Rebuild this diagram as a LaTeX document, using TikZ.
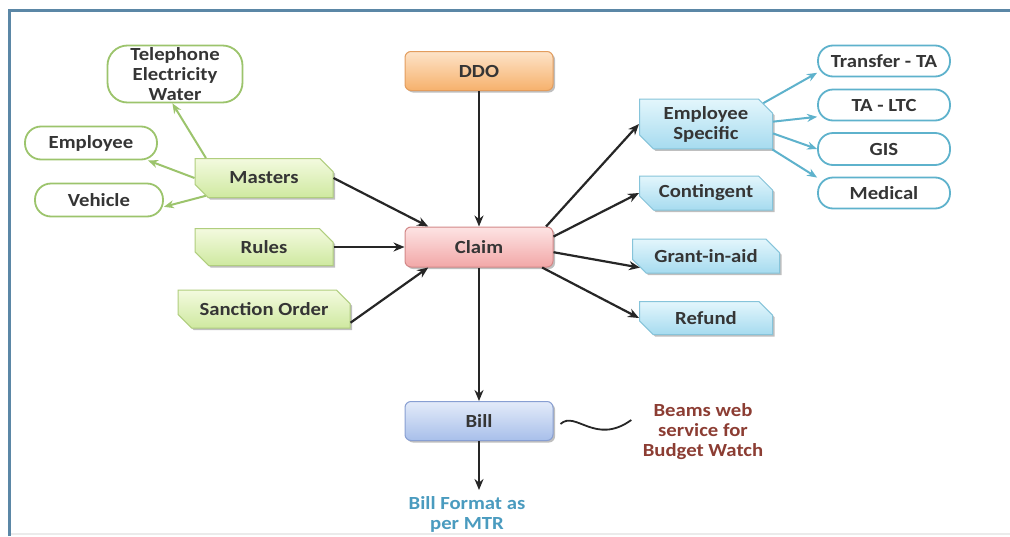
\documentclass[tikz,border=0pt]{standalone}
\usepackage{fontspec}
\setmainfont[FakeStretch=1.12]{Carlito}
\usetikzlibrary{shapes.misc,shadows,arrows.meta,calc}

\definecolor{frameblue}{HTML}{5B87A6}
\definecolor{txt}{HTML}{353535}
\definecolor{gTop}{HTML}{F3FADF}\definecolor{gBot}{HTML}{CFE9A0}\definecolor{gLine}{HTML}{B0CE7E}
\definecolor{bTop}{HTML}{E3F6FC}\definecolor{bBot}{HTML}{A6DBEF}\definecolor{bLine}{HTML}{86C4DA}
\definecolor{rTop}{HTML}{FDE4E4}\definecolor{rBot}{HTML}{F2A7A7}\definecolor{rLine}{HTML}{D38888}
\definecolor{oTop}{HTML}{FDE3C8}\definecolor{oBot}{HTML}{F6B16C}\definecolor{oLine}{HTML}{E39D5E}
\definecolor{vTop}{HTML}{E3EBF9}\definecolor{vBot}{HTML}{A8BFEA}\definecolor{vLine}{HTML}{889FD2}
\definecolor{gArrow}{HTML}{9CC46C}
\definecolor{bArrow}{HTML}{5EB2CC}
\definecolor{beams}{HTML}{8C3D33}
\definecolor{mtr}{HTML}{4A9BBF}

\tikzset{
  lbl/.style={font=\fontsize{18.5}{20}\selectfont\bfseries, text=txt, align=center},
  shade/.style={drop shadow={shadow xshift=2pt, shadow yshift=-2pt, opacity=0.25, fill=black}},
  snip/.style={lbl, chamfered rectangle, chamfered rectangle corners={north east,south west},
    chamfered rectangle xsep=7pt, chamfered rectangle ysep=7pt, inner sep=0pt, line width=1pt, shade},
  greenbox/.style={snip, draw=gLine, top color=gTop, bottom color=gBot},
  bluebox/.style={snip, draw=bLine, top color=bTop, bottom color=bBot},
  roundbox/.style={lbl, rectangle, rounded corners=6pt, inner sep=0pt, line width=1pt,
    minimum width=148pt, minimum height=39pt, shade},
  greenoval/.style={lbl, rectangle, rounded corners=16pt, draw=gArrow, fill=white, line width=1.8pt, inner sep=0pt},
  blueoval/.style={lbl, rectangle, rounded corners=15pt, draw=bArrow, fill=white, line width=1.8pt, inner sep=0pt,
    minimum width=132pt, minimum height=31pt},
  blk/.style={line width=2.2pt, black!85, -{Stealth[length=11pt,width=9pt]}},
  garr/.style={line width=2pt, gArrow, -{Stealth[length=10pt,width=8pt]}},
  barr/.style={line width=2pt, bArrow, -{Stealth[length=10pt,width=8pt]}},
}

\begin{document}
\begin{tikzpicture}[x=1pt,y=-1pt]
\useasboundingbox (0,0) rectangle (1010,536);
\fill[white] (0,0) rectangle (1010,536);

% frame
\draw[frameblue, line width=3pt] (9,536) -- (9,10) -- (1010,10);
\draw[black!8, line width=2pt] (11,534) -- (1010,534);

% left side: masters and its details
\node[greenoval, minimum width=135pt, minimum height=57pt, rounded corners=20pt] (tele) at (175,74)
  {Telephone\\Electricity\\Water};
\node[greenoval, minimum width=132pt, minimum height=33pt] (emp) at (91,143) {Employee};
\node[greenoval, minimum width=128pt, minimum height=33pt] (veh) at (99,200) {Vehicle};

\node[greenbox, minimum width=138pt, minimum height=39pt] (masters) at (264,178) {Masters};
\node[greenbox, minimum width=138pt, minimum height=37pt] (rules) at (264,247) {Rules};
\node[greenbox, minimum width=172pt, minimum height=38pt] (sanction) at (264,309) {Sanction Order};

% centre column
\node[roundbox, draw=oLine, top color=oTop, bottom color=oBot] (ddo) at (479,71) {DDO};
\node[roundbox, draw=rLine, top color=rTop, bottom color=rBot, minimum height=40pt] (claim) at (479,247) {Claim};
\node[roundbox, draw=vLine, top color=vTop, bottom color=vBot] (bill) at (479,421) {Bill};

% right side: claim types
\node[bluebox, minimum width=133pt, minimum height=46pt] (espec) at (706,124) {Employee\\Specific};
\node[bluebox, minimum width=133pt, minimum height=34pt] (cont) at (706,193) {Contingent};
\node[bluebox, minimum width=147pt, minimum height=34pt] (grant) at (706,256) {Grant-in-aid};
\node[bluebox, minimum width=133pt, minimum height=33pt] (refund) at (706,318) {Refund};

\node[blueoval] (transfer) at (884,61) {Transfer - TA};
\node[blueoval] (tallc) at (884,105) {TA - LTC};
\node[blueoval, minimum height=32pt] (gis) at (884,149) {GIS};
\node[blueoval] (medical) at (884,193) {Medical};

% annotations
\node[lbl, text=beams] (beamsws) at (703,432) {Beams web\\service for\\Budget Watch};
\node[lbl, text=mtr] (mtrfmt) at (467,514) {Bill Format as\\per MTR};
\coordinate (mtrtip) at (bill.south |- 0,490);

% inputs to the claim
\draw[blk] (masters.east) -- (claim.158);
\draw[blk] (rules.east) -- (claim.west);
\draw[blk] (sanction.-9) -- (claim.202);
\draw[blk] (ddo.south) -- (claim.north);

% claim outputs
\draw[blk] (claim.17) -- (espec.west);
\draw[blk] (claim.8) -- (cont.west);
\draw[blk] (claim.-4) -- (grant.190);
\draw[blk] (claim.-18) -- (refund.west);
\draw[blk] (claim.south) -- (bill.north);
\draw[blk] (bill.south) -- (mtrtip);

% masters details
\draw[garr] (masters.161) -- (tele.265);
\draw[garr] (masters.west) -- (emp.-17);
\draw[garr] (masters.197) -- (veh.-6);

% employee specific details
\draw[barr] (espec.20) -- (transfer.190);
\draw[barr] (espec.2) -- (tallc.190);
\draw[barr] (espec.-8) -- (gis.west);
\draw[barr] (espec.-21) -- (medical.167);

% link to budget watch
\draw[black!85, line width=1.8pt] ($(bill.east)+(7,3)$)
  .. controls +(15,-14) and +(-36,26) .. ($(beamsws.west)+(-8,-12)$);
\end{tikzpicture}
\end{document}
